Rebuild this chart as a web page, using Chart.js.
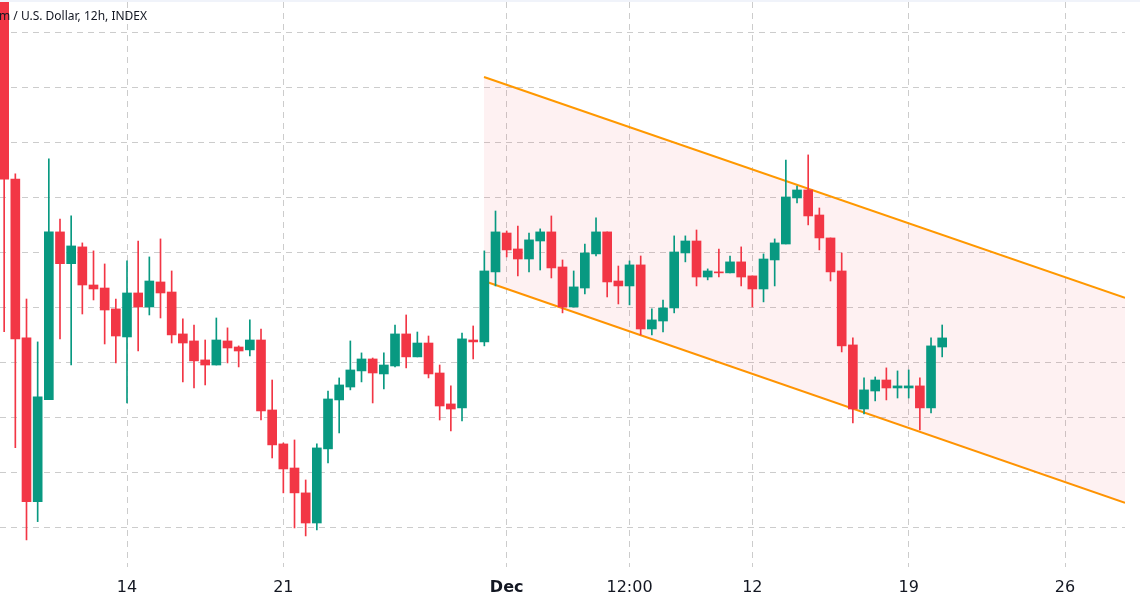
<!DOCTYPE html>
<html>
<head>
<meta charset="utf-8">
<script src="https://cdn.jsdelivr.net/npm/chart.js@4.4.1/dist/chart.umd.min.js"></script>
<style>
  html, body { margin: 0; padding: 0; background: #fff; }
  #wrap { width: 1140px; height: 603px; }
</style>
</head>
<body>
<div id="wrap"><canvas id="chart" width="1140" height="603"></canvas></div>
<script>
// 12h candles, index 0 = Nov 8 12:00 ... index 84 = Dec 20 12:00
const open  = [1486, 1333.8, 1218.2, 1099.1, 1173.3, 1295.3, 1272.2, 1284.4, 1256.7, 1254.5,
               1239.3, 1218.9, 1250.9, 1240.7, 1258.9, 1251.6, 1221.1, 1216, 1202.2, 1198.5,
               1216, 1211.6, 1209.5, 1216.7, 1165.8, 1141.1, 1123.6, 1105.5, 1083.6, 1137.5,
               1173.1, 1182.5, 1194.2, 1202.9, 1192, 1197.8, 1221.1, 1204.4, 1214.5, 1192.7,
               1170.2, 1167.3, 1216.7, 1215.3, 1266.2, 1294.5, 1282.9, 1275.6, 1288.7, 1295.3,
               1269.8, 1240.7, 1254.5, 1279.3, 1295.3, 1259.6, 1256, 1271.3, 1224.7, 1230.5,
               1240, 1280, 1288.7, 1262.5, 1266.2, 1265.5, 1273.5, 1263.3, 1253.8, 1274.9,
               1286.5, 1320, 1325.8, 1307.6, 1290.9, 1266.9, 1213.1, 1166.5, 1179.6, 1187.6,
               1181.8, 1181.8, 1183.3, 1167.3, 1211.6];
const high  = [1493, 1337.5, 1246.5, 1215.3, 1348.4, 1304.7, 1306.9, 1287.3, 1281.5, 1272,
               1246.5, 1274.2, 1288.7, 1277.1, 1290.2, 1266.9, 1232, 1227.6, 1216.7, 1232.7,
               1225.5, 1212.4, 1231.3, 1224.7, 1187.6, 1141.8, 1144, 1114.9, 1141.1, 1179.6,
               1189.1, 1216, 1207.3, 1203.6, 1207.3, 1227.6, 1234.9, 1222.5, 1219.6, 1198.5,
               1183.3, 1221.8, 1226.9, 1281.5, 1310.5, 1296, 1299.6, 1294.5, 1297.5, 1306.9,
               1274.9, 1266.9, 1286.5, 1305.5, 1295.3, 1270.5, 1274.2, 1277.8, 1239.3, 1245.8,
               1292.4, 1292.4, 1296.7, 1268.4, 1282.9, 1277.8, 1284.4, 1263.3, 1279.3, 1290.2,
               1347.6, 1328.7, 1351.3, 1312.7, 1290.9, 1280, 1218.2, 1189.1, 1189.8, 1196.4,
               1194.2, 1194.9, 1189.1, 1218.2, 1227.6];
const low   = [1222.8, 1138.4, 1071.3, 1084.6, 1173.3, 1217.5, 1198.5, 1235.6, 1245.8, 1213.8,
               1200, 1170.9, 1208.7, 1234.9, 1232.7, 1214.5, 1186.2, 1181.8, 1184, 1198.5,
               1200, 1197.1, 1205.1, 1158.5, 1130.9, 1105.5, 1080, 1074.2, 1078.5, 1127.3,
               1149.1, 1180.4, 1186.2, 1170.9, 1181.1, 1197.1, 1196.4, 1204.4, 1189.1, 1158.5,
               1150.5, 1157.8, 1202.9, 1212.4, 1256, 1277.1, 1263.3, 1266.2, 1267.6, 1261.8,
               1236.4, 1240.7, 1250.2, 1277.8, 1248, 1242.9, 1242.2, 1220.4, 1220.4, 1222.5,
               1236.4, 1273.5, 1256, 1260.4, 1262.5, 1265.5, 1256, 1240.7, 1244.4, 1256,
               1286.5, 1316.4, 1300.4, 1282.2, 1259.6, 1208, 1156.4, 1162.9, 1172.4, 1173.1,
               1174.5, 1174.5, 1151.3, 1163.6, 1204.4];
const close = [1333.6, 1217.5, 1099.1, 1175.3, 1295.3, 1272.2, 1285.1, 1256.7, 1253.8, 1238.5,
               1219.6, 1250.9, 1240.7, 1259.6, 1250.9, 1220.4, 1214.5, 1201.5, 1198.5, 1216.7,
               1210.9, 1208.7, 1216.7, 1165.1, 1140.4, 1122.9, 1105.5, 1083.6, 1138.2, 1173.8,
               1184, 1194.9, 1202.9, 1192.7, 1198.5, 1221.1, 1204.4, 1214.5, 1192, 1168.7,
               1166.5, 1217.5, 1215.3, 1266.9, 1295.3, 1282.2, 1275.6, 1289.5, 1295.3, 1269.1,
               1240.7, 1255.3, 1280, 1295.3, 1258.9, 1256, 1271.3, 1224.7, 1231.3, 1240,
               1280.7, 1288.7, 1262.5, 1266.9, 1265.5, 1273.5, 1262.5, 1253.8, 1275.6, 1287.3,
               1320.7, 1325.8, 1306.9, 1290.9, 1266.2, 1212.4, 1166.5, 1180.4, 1187.6, 1181.8,
               1183.3, 1183.3, 1167.3, 1212.4, 1218.2];

// x-axis tick positions (candle index) and their labels
const tickPos  = [11, 25, 45, 56, 67, 81, 95];
const tickText = ['14', '21', 'Dec', '12:00', '12', '19', '26'];

// parallel channel drawn on the chart
const channelX     = [42.97, 100.37];
const channelUpper = [1408, 1247.3];
const channelLower = [1259.6, 1098.2];

const UP = '#089981', DOWN = '#f23645';
const idx = open.map((_, i) => i);
const colors = idx.map(i => close[i] >= open[i] ? UP : DOWN);

const topBar = {
  id: 'topBar',
  afterDraw(chart) {
    const ctx = chart.ctx;
    ctx.save();
    ctx.fillStyle = '#f0f3fa';
    ctx.fillRect(0, 0, chart.width, 2);
    ctx.font = '12px "Noto Sans"';
    ctx.fillStyle = '#131722';
    ctx.textBaseline = 'alphabetic';
    const pre = ctx.measureText('Ethereu').width;
    ctx.fillText('Ethereum / U.S. Dollar, 12h, INDEX', -1 - pre, 19.5);
    ctx.restore();
  }
};

new Chart(document.getElementById('chart'), {
  type: 'bar',
  data: {
    datasets: [{
      label: 'wick',
      data: idx.map(i => ({x: i, y: [low[i], high[i]]})),
      backgroundColor: colors,
      barThickness: 1,
      grouped: false,
      order: 1
    }, {
      label: 'body',
      data: idx.map(i => ({x: i, y: [open[i], close[i]]})),
      backgroundColor: colors,
      barThickness: 9,
      minBarLength: 1,
      grouped: false,
      order: 0
    }, {
      type: 'line',
      label: 'upper',
      data: channelX.map((x, i) => ({x: x, y: channelUpper[i]})),
      borderColor: '#ff9800',
      borderWidth: 2,
      pointRadius: 0,
      fill: '+1',
      backgroundColor: 'rgba(242, 54, 69, 0.07)',
      order: 5
    }, {
      type: 'line',
      label: 'lower',
      data: channelX.map((x, i) => ({x: x, y: channelLower[i]})),
      borderColor: '#ff9800',
      borderWidth: 2,
      pointRadius: 0,
      fill: false,
      order: 5
    }]
  },
  options: {
    responsive: false,
    animation: false,
    layout: { padding: { left: 0, right: 15, top: 2, bottom: 0 } },
    plugins: { legend: { display: false }, tooltip: { enabled: false } },
    scales: {
      x: {
        type: 'linear',
        offset: false,
        min: -0.373,
        max: 100.37,
        afterBuildTicks: (scale) => { scale.ticks = tickPos.map(v => ({value: v})); },
        afterFit: (scale) => { scale.height = 36; },
        grid: { color: '#cccccc', drawTicks: false, offset: false },
        border: { display: false, dash: [6, 5] },
        ticks: {
          padding: 11,
          color: '#131722',
          autoSkip: false,
          maxRotation: 0,
          font: (ctx) => ({ family: 'DejaVu Sans', size: 16, weight: (ctx.tick && ctx.tick.value === 45) ? 'bold' : 'normal' }),
          callback: (v) => tickText[tickPos.indexOf(v)]
        }
      },
      y: {
        min: 1051.6,
        max: 1462.5,
        afterBuildTicks: (scale) => {
          const t = [];
          for (let v = 1080; v <= 1440; v += 40) t.push({value: v});
          scale.ticks = t;
        },
        grid: { color: '#cccccc', drawTicks: false },
        border: { display: false, dash: [6, 5] },
        ticks: { display: false }
      }
    }
  },
  plugins: [topBar]
});
</script>
</body>
</html>
